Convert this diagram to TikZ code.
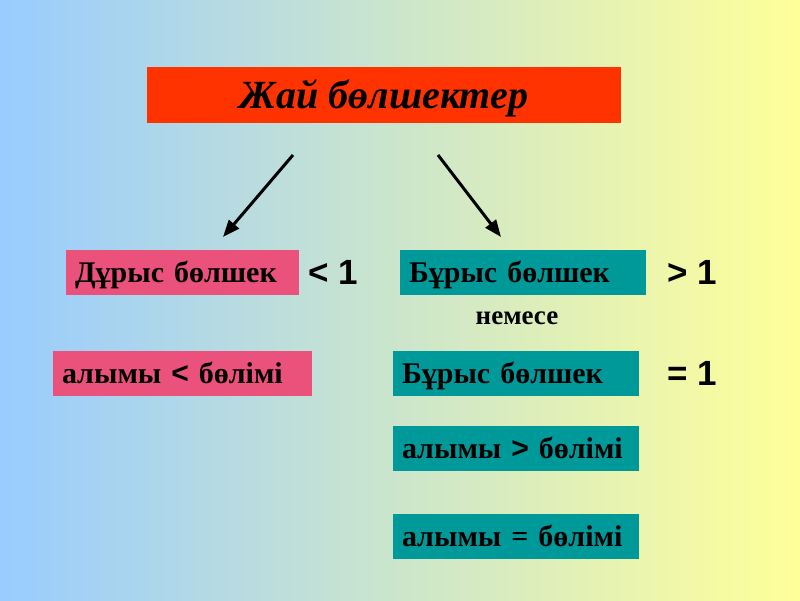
\documentclass[tikz,border=0pt]{standalone}
\usepackage{fontspec}
\setmainfont{Liberation Serif}
\newfontfamily\signfont{Liberation Sans}
\usetikzlibrary{arrows.meta}

\definecolor{bgleft}{RGB}{153,204,255}
\definecolor{bgright}{RGB}{255,255,153}
\definecolor{titlered}{RGB}{255,51,0}
\definecolor{pinkbox}{RGB}{234,82,124}
\definecolor{tealbox}{RGB}{0,153,153}

\begin{document}
\begin{tikzpicture}[
    x=1pt, y=-1pt,
    every node/.style={text=black},
    title/.style={
        fill=titlered,
        align=center,
        inner ysep=0pt,
        text height=30pt,
        text depth=4pt,
        minimum width=474pt,
        minimum height=56pt,
        font=\fontsize{40}{44}\selectfont\bfseries\itshape
    },
    box/.style={
        align=left,
        inner xsep=9pt,
        inner ysep=0pt,
        text height=24pt,
        text depth=4pt,
        minimum height=45pt,
        font=\fontsize{30}{34}\selectfont\bfseries
    },
    pink/.style={box, fill=pinkbox},
    teal/.style={box, fill=tealbox},
    sign/.style={
        anchor=west,
        inner sep=0pt,
        font=\signfont\fontsize{35}{38}\selectfont\bfseries
    },
    arr/.style={-{Triangle[length=17pt, width=13pt]}, line width=3pt}
]

    % background
    \useasboundingbox (0,0) rectangle (800,600);
    \fill[left color=bgleft, right color=bgright] (0,0) rectangle (800,600);

    % title
    \node[title] (jai) at (384,95) {Жай бөлшектер};

    % arrows
    \coordinate (lstart) at (293,155);
    \coordinate (lend) at (223,237);
    \coordinate (rstart) at (438,155);
    \coordinate (rend) at (501,237);
    \draw[arr] (lstart) -- (lend);
    \draw[arr] (rstart) -- (rend);

    % left column
    \node[pink, text width=215pt] (durys) at (182.5,272) {Дұрыс бөлшек};
    \node[sign] (less) at (308,272.5) {< 1};
    \node[pink, text width=241pt] (alymyless) at (182.5,373) {алымы {\signfont <} бөлімі};

    % right column
    \node[teal, text width=228pt] (burys) at (523,272) {Бұрыс бөлшек};
    \node[sign] (greater) at (667,272.5) {> 1};
    \node[font=\fontsize{27}{30}\selectfont\bfseries] (nemese) at (517,318) {немесе};
    \node[teal, text width=228pt] (burysb) at (516,373) {Бұрыс бөлшек};
    \node[sign] (equal) at (667,373.5) {= 1};
    \node[teal, text width=228pt] (alymygreater) at (516,448.5) {алымы {\signfont >} бөлімі};
    \node[teal, text width=228pt] (alymyequal) at (516,536.5) {алымы = бөлімі};

\end{tikzpicture}
\end{document}
